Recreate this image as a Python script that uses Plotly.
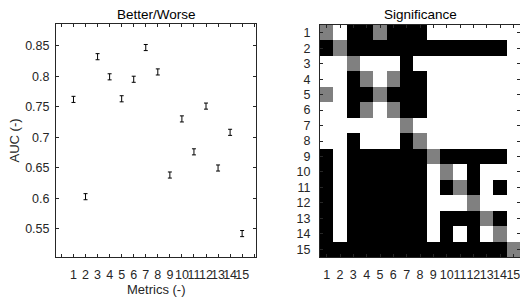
import plotly.graph_objects as go

metrics = list(range(1, 16))
auc = [0.762, 0.6025, 0.832, 0.799, 0.763, 0.795, 0.847, 0.807, 0.638, 0.730, 0.676, 0.751, 0.6495, 0.708, 0.542]
auc_err = [0.005] * 15

# significance matrix: 0 = black, 0.5 = gray, 1 = white
sig = [
    [0.5, 1, 0, 0, 0.5, 0, 0, 0, 1, 1, 1, 1, 1, 1, 1],
    [0, 0.5, 0, 0, 0, 0, 0, 0, 0, 0, 0, 0, 0, 0, 1],
    [1, 1, 0.5, 1, 1, 1, 0, 1, 1, 1, 1, 1, 1, 1, 1],
    [1, 1, 0, 0.5, 1, 0.5, 0, 0, 1, 1, 1, 1, 1, 1, 1],
    [0.5, 1, 0, 0, 0.5, 0, 0, 0, 1, 1, 1, 1, 1, 1, 1],
    [1, 1, 0, 0.5, 1, 0.5, 0, 0, 1, 1, 1, 1, 1, 1, 1],
    [1, 1, 1, 1, 1, 1, 0.5, 1, 1, 1, 1, 1, 1, 1, 1],
    [1, 1, 0, 1, 1, 1, 0, 0.5, 1, 1, 1, 1, 1, 1, 1],
    [0, 1, 0, 0, 0, 0, 0, 0, 0.5, 0, 0, 0, 0, 0, 1],
    [0, 1, 0, 0, 0, 0, 0, 0, 1, 0.5, 1, 0, 1, 1, 1],
    [0, 1, 0, 0, 0, 0, 0, 0, 1, 0, 0.5, 0, 1, 0, 1],
    [0, 1, 0, 0, 0, 0, 0, 0, 1, 1, 1, 0.5, 1, 1, 1],
    [0, 1, 0, 0, 0, 0, 0, 0, 1, 0, 0, 0, 0.5, 0, 1],
    [0, 1, 0, 0, 0, 0, 0, 0, 1, 0, 1, 0, 1, 0.5, 1],
    [0, 0, 0, 0, 0, 0, 0, 0, 0, 0, 0, 0, 0, 0, 0.5],
]

W, H = 520, 297
def px(x):
    return x / W
def py(y):
    return 1 - y / H

FONT = "Liberation Sans, Arial, Helvetica, sans-serif"
TXT = "#262626"

fig = go.Figure()
fig.add_trace(go.Scatter(
    x=metrics, y=auc, mode="markers",
    marker=dict(size=1, color="rgba(0,0,0,0)"),
    error_y=dict(type="data", array=auc_err, visible=True, color="black", thickness=1, width=2),
    xaxis="x", yaxis="y", showlegend=False,
))
fig.add_trace(go.Heatmap(
    z=sig, x=metrics, y=metrics,
    colorscale=[[0, "#000000"], [0.5, "#808080"], [1, "#ffffff"]],
    zmin=0, zmax=1, showscale=False,
    xaxis="x2", yaxis="y2", hoverinfo="skip",
))

common = dict(showline=True, linecolor=TXT, linewidth=1, mirror="ticks", ticks="inside",
              ticklen=3, tickcolor=TXT, showgrid=False, zeroline=False,
              automargin=False, tickangle=0, ticklabeloverflow="allow",
              tickfont=dict(family=FONT, size=12.5, color=TXT))

fig.update_layout(
    width=W, height=H, margin=dict(l=0, r=0, t=0, b=0, autoexpand=False),
    paper_bgcolor="white", plot_bgcolor="white",
    xaxis=dict(domain=[px(56), px(256)], range=[-0.45, 16.15],
               tickvals=list(range(0, 17)), ticktext=[""] + [str(m) for m in metrics] + [""],
               anchor="y", ticklabelstandoff=6, **common),
    yaxis=dict(domain=[py(257), py(24)], range=[0.5036, 0.8856],
               tickvals=[0.55, 0.6, 0.65, 0.7, 0.75, 0.8, 0.85],
               ticktext=["0.55", "0.6", "0.65", "0.7", "0.75", "0.8", "0.85"],
               anchor="x", ticklabelstandoff=3, **common),
    xaxis2=dict(domain=[px(320), 1.0], range=[0.5, 15.5],
                tickvals=metrics, ticktext=[str(m) for m in metrics],
                anchor="y2", ticklabelstandoff=6, **common),
    yaxis2=dict(domain=[py(257), py(25)], range=[15.5, 0.5],
                tickvals=metrics, ticktext=[str(m) for m in metrics],
                anchor="x2", ticklabelstandoff=6, **common),
    annotations=[
        dict(text="Better/Worse", x=px(156), y=py(15), xref="paper", yref="paper",
             showarrow=False, xanchor="center", yanchor="middle",
             font=dict(family=FONT, size=13.5, color="black")),
        dict(text="Significance", x=px(420), y=py(15), xref="paper", yref="paper",
             showarrow=False, xanchor="center", yanchor="middle",
             font=dict(family=FONT, size=13.5, color="black")),
        dict(text="Metrics (-)", x=px(156), y=py(289), xref="paper", yref="paper",
             showarrow=False, xanchor="center", yanchor="middle",
             font=dict(family=FONT, size=13, color=TXT)),
        dict(text="AUC (-)", x=px(14), y=py(140.5), xref="paper", yref="paper",
             showarrow=False, xanchor="center", yanchor="middle", textangle=-90,
             font=dict(family=FONT, size=13, color=TXT)),
    ],
)

fig.write_html("out.html", config={"displayModeBar": False},
               post_script="document.body.style.margin='0';document.body.style.overflow='hidden';")
